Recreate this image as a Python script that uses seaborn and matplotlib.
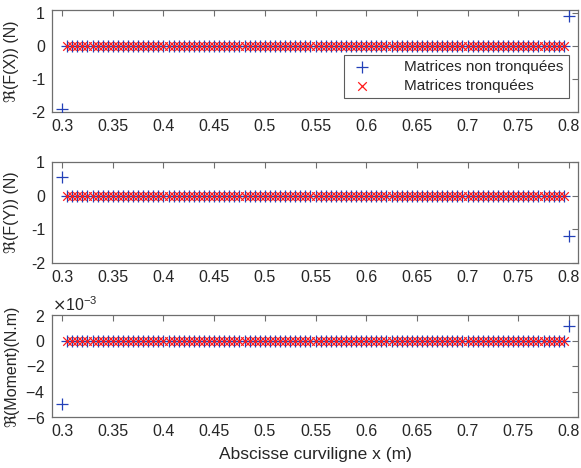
import numpy as np
import pandas as pd
import matplotlib
matplotlib.use("Agg")
import matplotlib.pyplot as plt
import seaborn as sns
from matplotlib.ticker import ScalarFormatter

# ---------------- data ----------------
abscisse = [0.300, 0.305, 0.310, 0.315, 0.320, 0.325, 0.330, 0.335, 0.340, 0.345,
            0.350, 0.355, 0.360, 0.365, 0.370, 0.375, 0.380, 0.385, 0.390, 0.395,
            0.400, 0.405, 0.410, 0.415, 0.420, 0.425, 0.430, 0.435, 0.440, 0.445,
            0.450, 0.455, 0.460, 0.465, 0.470, 0.475, 0.480, 0.485, 0.490, 0.495,
            0.500, 0.505, 0.510, 0.515, 0.520, 0.525, 0.530, 0.535, 0.540, 0.545,
            0.550, 0.555, 0.560, 0.565, 0.570, 0.575, 0.580, 0.585, 0.590, 0.595,
            0.600, 0.605, 0.610, 0.615, 0.620, 0.625, 0.630, 0.635, 0.640, 0.645,
            0.650, 0.655, 0.660, 0.665, 0.670, 0.675, 0.680, 0.685, 0.690, 0.695,
            0.700, 0.705, 0.710, 0.715, 0.720, 0.725, 0.730, 0.735, 0.740, 0.745,
            0.750, 0.755, 0.760, 0.765, 0.770, 0.775, 0.780, 0.785, 0.790, 0.795,
            0.800]

# interior values (99 points, all zero)
zeros_interieur = [0, 0, 0, 0, 0, 0, 0, 0, 0, 0, 0, 0, 0, 0, 0, 0, 0, 0, 0, 0,
                   0, 0, 0, 0, 0, 0, 0, 0, 0, 0, 0, 0, 0, 0, 0, 0, 0, 0, 0, 0,
                   0, 0, 0, 0, 0, 0, 0, 0, 0, 0, 0, 0, 0, 0, 0, 0, 0, 0, 0, 0,
                   0, 0, 0, 0, 0, 0, 0, 0, 0, 0, 0, 0, 0, 0, 0, 0, 0, 0, 0, 0,
                   0, 0, 0, 0, 0, 0, 0, 0, 0, 0, 0, 0, 0, 0, 0, 0, 0, 0, 0]

# non truncated: end values
fx_bords = [-1.9, 0.93]
fy_bords = [0.55, -1.2]
mom_bords = [-5.0e-3, 1.1e-3]

fx_non_tronq = [fx_bords[0], *zeros_interieur, fx_bords[1]]
fy_non_tronq = [fy_bords[0], *zeros_interieur, fy_bords[1]]
mom_non_tronq = [mom_bords[0], *zeros_interieur, mom_bords[1]]

abscisse_tronq = abscisse[1:-1]
fx_tronq = zeros_interieur
fy_tronq = zeros_interieur
mom_tronq = zeros_interieur

xtick_vals = [0.3, 0.35, 0.4, 0.45, 0.5, 0.55, 0.6, 0.65, 0.7, 0.75, 0.8]
xtick_labels = ["0.3", "0.35", "0.4", "0.45", "0.5", "0.55", "0.6", "0.65", "0.7", "0.75", "0.8"]

ylabels = ["ℜ(F(X)) (N)", "ℜ(F(Y)) (N)", "ℜ(Moment)(N.m)"]
yticks_list = [[-2, -1, 0, 1], [-2, -1, 0, 1], [-6e-3, -4e-3, -2e-3, 0, 2e-3]]
ylims = [(-2, 1.1), (-2, 1), (-6e-3, 2e-3)]

# ---------------- style ----------------
sns.set_theme(style="white")
plt.rcParams['font.family'] = ['Liberation Sans', 'DejaVu Sans']
plt.rcParams['axes.unicode_minus'] = False

BLUE = "#2340b8"
RED = "#ff1a1a"
AX_COL = "#262626"
SPINE_COL = "#6e6e6e"

fig = plt.figure(figsize=(5.81, 4.68), dpi=100)
W, H = 581, 468
boxes = [(10, 112), (162, 263), (315, 417)]
left_px, right_px = 52, 578

series = [(fx_non_tronq, fx_tronq), (fy_non_tronq, fy_tronq), (mom_non_tronq, mom_tronq)]

axes = []
for i, ((top, bot), (y_nt, y_t)) in enumerate(zip(boxes, series)):
    ax = fig.add_axes([left_px / W, 1 - bot / H, (right_px - left_px) / W, (bot - top) / H])
    axes.append(ax)
    d_nt = pd.DataFrame({"x": abscisse, "y": y_nt})
    d_t = pd.DataFrame({"x": abscisse_tronq, "y": y_t})
    sns.scatterplot(data=d_nt, x="x", y="y", marker="+", s=80, color=BLUE,
                    linewidth=0.9, ax=ax, label="Matrices non tronquées", zorder=3)
    sns.scatterplot(data=d_t, x="x", y="y", marker="x", s=38, color=RED,
                    linewidth=0.9, ax=ax, label="Matrices tronquées", zorder=4)
    ax.set_xlim(0.29, 0.809)
    ax.set_ylim(*ylims[i])
    ax.set_xticks(xtick_vals)
    ax.set_xticklabels(xtick_labels)
    ax.set_yticks(yticks_list[i])
    ax.tick_params(direction="in", top=True, right=True, length=4, width=0.8,
                   colors=SPINE_COL, labelcolor=AX_COL, labelsize=11.5, pad=5)
    for sp in ax.spines.values():
        sp.set_color(SPINE_COL)
        sp.set_linewidth(0.9)
    ax.set_xlabel("")
    ax.set_ylabel(ylabels[i], fontsize=11.5, color=AX_COL)
    ax.yaxis.set_label_coords(-0.062, 0.5)
    if i != 0:
        ax.get_legend().remove()

# bottom axis scientific offset
fmt = ScalarFormatter(useMathText=True)
fmt.set_powerlimits((-2, 2))
axes[2].yaxis.set_major_formatter(fmt)
axes[2].yaxis.get_offset_text().set_fontsize(11.5)
axes[2].yaxis.get_offset_text().set_color(AX_COL)

leg = axes[0].legend(loc="upper right", bbox_to_anchor=(0.983, 0.559), borderaxespad=0,
                     fontsize=11, frameon=True, fancybox=False, edgecolor="#333333",
                     handletextpad=1.9, borderpad=0.35, labelspacing=0.3, handlelength=1.7)
leg.get_frame().set_linewidth(0.8)
for t in leg.get_texts():
    t.set_color(AX_COL)

fig.text(315 / W, 1 - 455 / H, "Abscisse curviligne x (m)", ha="center", va="center",
         fontsize=12.5, color=AX_COL)

fig.savefig("out.png", dpi=100, facecolor="white")
